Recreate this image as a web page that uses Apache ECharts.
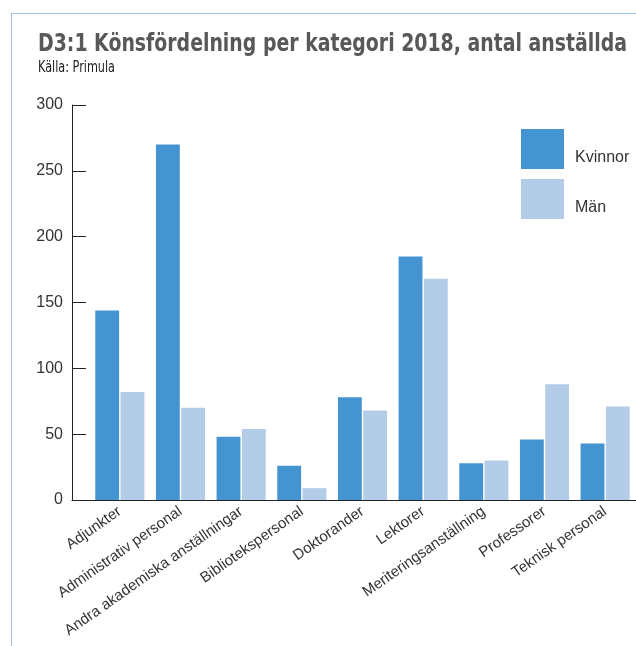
<!DOCTYPE html>
<html>
<head>
<meta charset="utf-8">
<script src="https://cdn.jsdelivr.net/npm/echarts@6/dist/echarts.min.js"></script>
<style>
  html, body { margin: 0; padding: 0; background: #fff; }
  #frame { position: absolute; left: 11px; top: 13px; width: 640px; height: 650px;
           border-left: 1px solid #9ec6ea; border-top: 1px solid #9ec6ea; }
  #chart { position: absolute; left: 0; top: 0; width: 636px; height: 646px; }
</style>
</head>
<body>
<div id="frame"></div>
<div id="chart"></div>
<script>
const categories = ["Adjunkter", "Administrativ personal", "Andra akademiska anställningar",
  "Bibliotekspersonal", "Doktorander", "Lektorer", "Meriteringsanställning", "Professorer", "Teknisk personal"];
const kvinnor = [144, 270, 48, 26, 78, 185, 28, 46, 43];
const man = [82, 70, 54, 9, 68, 168, 30, 88, 71];
const yTicks = { min: 0, max: 300, interval: 50 };
const titleText = "D3:1 Könsfördelning per kategori 2018, antal anställda";
const sourceText = "Källa: Primula";

const narrow = '"DejaVu Sans Condensed", "Liberation Sans", sans-serif';
const sans = '"Liberation Sans", Arial, sans-serif';

function fitScale(text, font, width) {
  const c = document.createElement('canvas').getContext('2d');
  c.font = font;
  return width / c.measureText(text).width;
}
const titleFont = 'bold 24px ' + narrow;
const subFont = '15px ' + narrow;
const titleScale = fitScale(titleText, titleFont, 589);
const subScale = fitScale(sourceText, subFont, 77);

const chart = echarts.init(document.getElementById('chart'), null, { renderer: 'canvas' });

chart.setOption({
  animation: false,
  graphic: [
    { type: 'text', x: 38, y: 45, scaleX: titleScale, silent: true,
      style: { text: titleText, font: titleFont, fill: '#585858', verticalAlign: 'middle' } },
    { type: 'text', x: 38, y: 68, scaleX: subScale, silent: true,
      style: { text: sourceText, font: subFont, fill: '#222', verticalAlign: 'middle' } }
  ],
  legend: {
    orient: 'vertical', left: 521, top: 129, padding: 0,
    itemWidth: 43, itemHeight: 40, itemGap: 10, icon: 'rect',
    formatter: '{t|{name}}',
    textStyle: { fontFamily: sans, fontSize: 16, color: '#333',
      rich: { t: { fontFamily: sans, fontSize: 16, color: '#333', padding: [18, 0, 0, 6] } } },
    data: ['Kvinnor', 'Män']
  },
  grid: [
    { left: 72, right: 0, top: 105, bottom: 146 },
    { left: 89.5, right: 0.5, top: 105, bottom: 146 }
  ],
  xAxis: [
    { gridIndex: 0, type: 'value', min: 0, max: 1,
      axisLine: { show: true, lineStyle: { color: '#222', width: 1 } },
      axisTick: { show: false }, axisLabel: { show: false }, splitLine: { show: false } },
    { gridIndex: 1, type: 'category', data: categories,
      axisLine: { show: false }, axisTick: { show: false },
      axisLabel: { rotate: 35, fontFamily: sans, fontSize: 15, color: '#333', margin: 10, interval: 0 } }
  ],
  yAxis: [
    { gridIndex: 0, type: 'value', min: yTicks.min, max: yTicks.max, interval: yTicks.interval,
      axisLine: { show: true, lineStyle: { color: '#222', width: 1 } },
      axisTick: { show: true, inside: true, length: 14, lineStyle: { color: '#222' } },
      axisLabel: { fontFamily: sans, fontSize: 16, color: '#333', margin: 9 },
      splitLine: { show: false } },
    { gridIndex: 1, type: 'value', min: yTicks.min, max: yTicks.max, show: false }
  ],
  series: [
    { name: 'Kvinnor', type: 'bar', xAxisIndex: 1, yAxisIndex: 1, data: kvinnor,
      barCategoryGap: '19%', barGap: '6%', itemStyle: { color: '#4394d0' } },
    { name: 'Män', type: 'bar', xAxisIndex: 1, yAxisIndex: 1, data: man,
      itemStyle: { color: '#b3cde9' } }
  ]
});
</script>
</body>
</html>
